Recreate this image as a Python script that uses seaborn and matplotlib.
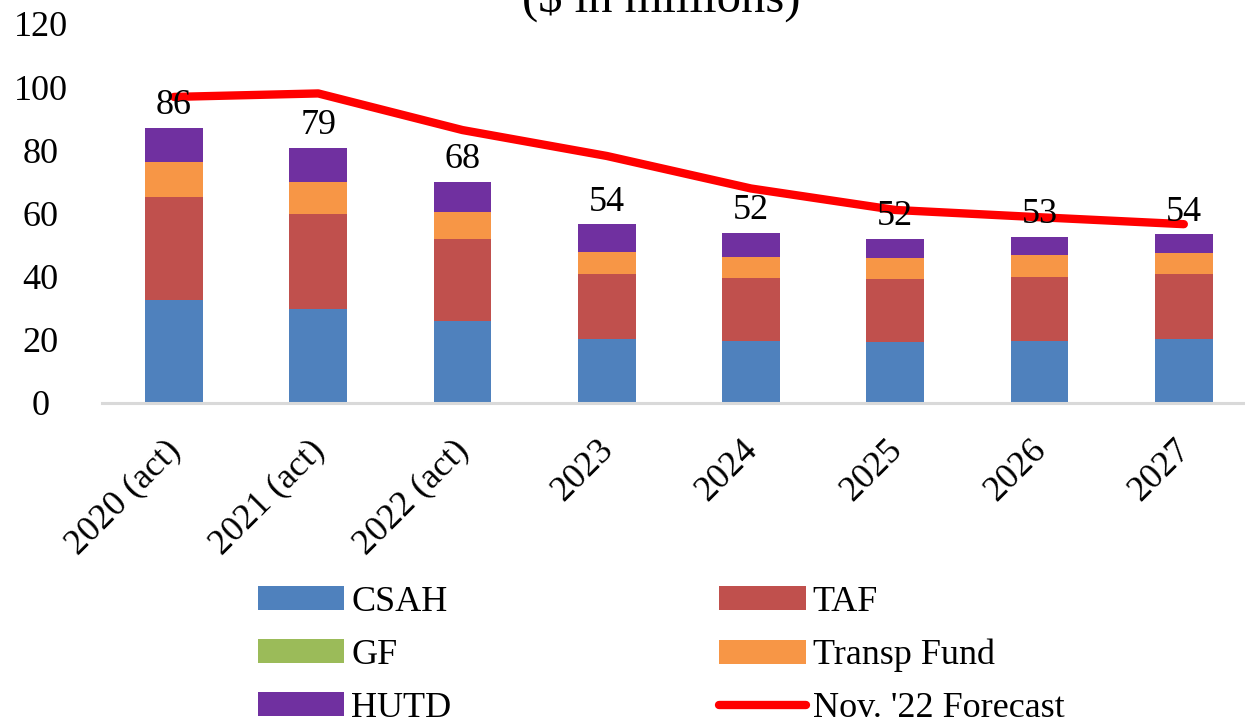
import numpy as np
import matplotlib
matplotlib.use('Agg')
import matplotlib.pyplot as plt
import seaborn as sns
from matplotlib.patches import Patch
from matplotlib.lines import Line2D
from matplotlib.transforms import ScaledTranslation

# Datos del grafico ($ en millones)
years = ['2020 (act)', '2021 (act)', '2022 (act)', '2023', '2024', '2025', '2026', '2027']
csah = [32.7, 29.7, 25.9, 20.2, 19.6, 19.4, 19.7, 20.2]
taf = [32.6, 30.0, 25.9, 20.6, 20.0, 19.8, 20.3, 20.6]
gf = [0, 0, 0, 0, 0, 0, 0, 0]
transp_fund = [11.1, 10.2, 8.8, 6.9, 6.6, 6.7, 6.8, 6.8]
hutd = [10.7, 10.8, 9.5, 8.8, 7.6, 6.1, 5.7, 5.8]
total_labels = [86, 79, 68, 54, 52, 52, 53, 54]
forecast = [96.9, 98.0, 86.4, 78.2, 67.9, 61.1, 58.8, 56.6]

series = [('CSAH', csah, '#4F81BD'),
          ('TAF', taf, '#C0504D'),
          ('GF', gf, '#9BBB59'),
          ('Transp Fund', transp_fund, '#F79646'),
          ('HUTD', hutd, '#7030A0')]

sns.set_style('white')
plt.rcParams['font.family'] = ['Liberation Serif', 'DejaVu Serif']
plt.rcParams['text.color'] = 'black'
plt.rcParams['xtick.color'] = 'black'
plt.rcParams['ytick.color'] = 'black'

fig = plt.figure(figsize=(12.45, 7.26), dpi=100)
ax = fig.add_axes([0.0818, 0.445, 0.927, 0.522])

# Barras apiladas: se dibujan las sumas acumuladas de arriba hacia abajo
cum = np.cumsum([s[1] for s in series], axis=0)
for i in range(len(series) - 1, -1, -1):
    name, vals, color = series[i]
    sns.barplot(x=years, y=cum[i], color=color, saturation=1, width=0.4,
                edgecolor='none', ax=ax)

# Linea de pronostico
x = np.arange(len(years))
sns.lineplot(x=x, y=forecast, color='#FF0000', linewidth=6,
             solid_capstyle='round', ax=ax)

# Etiquetas de totales
for xi, top, lab in zip(x, cum[-1], total_labels):
    ax.annotate(str(lab), (xi, top), xytext=(0, 16), textcoords='offset points',
                ha='center', va='center', fontsize=26)

ax.set_ylim(0, 120)
ax.set_xlim(-0.5, len(years) - 0.5)
ax.set_yticks(range(0, 121, 20))
ax.set_ylabel('')
ax.set_xlabel('')
for s in ['left', 'right', 'top']:
    ax.spines[s].set_visible(False)
ax.spines['bottom'].set_color('#D9D9D9')
ax.spines['bottom'].set_linewidth(2.2)
ax.tick_params(axis='y', length=0, labelsize=26, pad=44)
ax.tick_params(axis='x', length=0, labelsize=26, pad=22)
for lbl in ax.get_yticklabels():
    lbl.set_horizontalalignment('center')
for lbl in ax.get_xticklabels():
    lbl.set_rotation(45)
    lbl.set_horizontalalignment('right')
    lbl.set_rotation_mode('anchor')
    lbl.set_transform(lbl.get_transform() + ScaledTranslation(-0.10, 0, fig.dpi_scale_trans))

fig.text(0.531, 0.9835, '($ in millions)', ha='center', va='baseline', fontsize=35)

# Leyenda (orden por columnas)
h = {name: Patch(facecolor=color, edgecolor='none') for name, vals, color in series}
h['Nov. \'22 Forecast'] = Line2D([], [], color='#FF0000', linewidth=6, solid_capstyle='round')
order = ['CSAH', 'GF', 'HUTD', 'TAF', 'Transp Fund', 'Nov. \'22 Forecast']
fig.legend([h[k] for k in order], order, ncol=2, loc='center',
           bbox_to_anchor=(0.531, 0.097), frameon=False, fontsize=26,
           handlelength=2.4, handleheight=0.65, handletextpad=0.2,
           labelspacing=0.55, columnspacing=7.4)

fig.savefig('out.png', dpi=100)
